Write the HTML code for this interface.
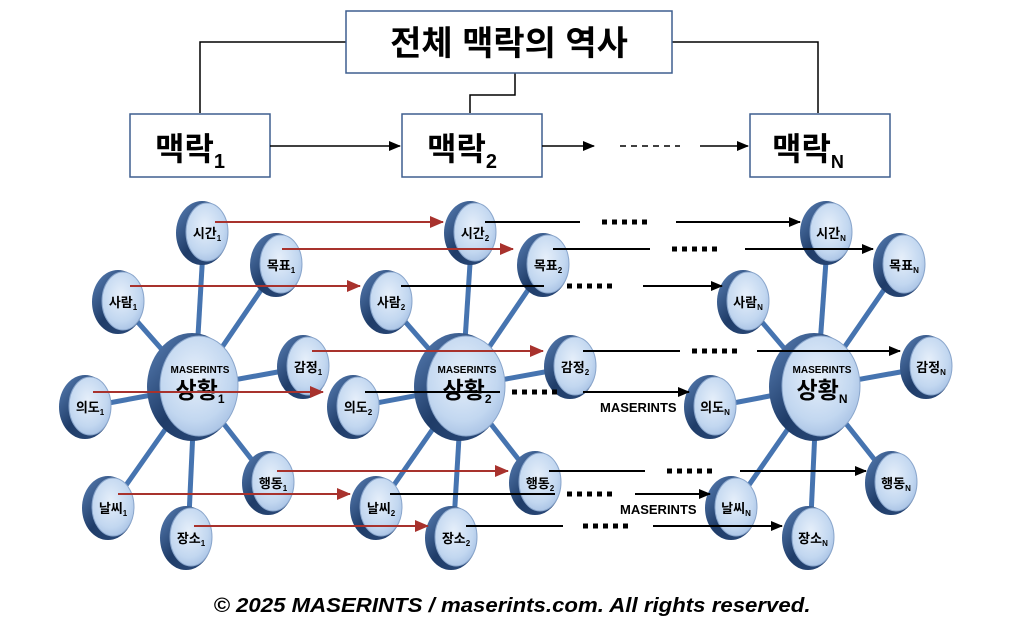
<!DOCTYPE html>
<html><head><meta charset="utf-8"><style>
html,body{margin:0;padding:0;background:#fff}
svg{display:block}
text{font-family:"Liberation Sans","Noto Sans CJK KR",sans-serif}
</style></head><body>
<svg width="1024" height="637" viewBox="0 0 1024 637" xmlns="http://www.w3.org/2000/svg">
<defs>
<radialGradient id="face" cx="45%" cy="40%" r="65%">
<stop offset="0" stop-color="#e6effa"/><stop offset="0.7" stop-color="#c2d7f0"/><stop offset="1" stop-color="#a6c0e3"/>
</radialGradient>
<linearGradient id="rim" x1="0" y1="0" x2="1" y2="1">
<stop offset="0" stop-color="#5b82b8"/><stop offset="0.5" stop-color="#1f3c68"/><stop offset="1" stop-color="#2d4c7c"/>
</linearGradient>
<marker id="ab" markerWidth="12" markerHeight="10" refX="11" refY="5" orient="auto" markerUnits="userSpaceOnUse"><path d="M0,0 L12,5 L0,10z" fill="#000"/></marker>
<marker id="ar2" markerWidth="14" markerHeight="12" refX="13" refY="6" orient="auto" markerUnits="userSpaceOnUse"><path d="M0,0 L14,6 L0,12z" fill="#a8322d"/></marker>
</defs>

<g fill="none" stroke="#000" stroke-width="1.5">
<polyline points="346,42 200,42 200,113"/>
<polyline points="672,42 818,42 818,113"/>
<polyline points="515,73 515,95 470,95 470,113"/>
</g>
<g fill="#fff" stroke="#3f5f8f" stroke-width="1.5">
<rect x="346" y="11" width="326" height="62"/>
<rect x="130" y="114" width="140" height="63"/>
<rect x="402" y="114" width="140" height="63"/>
<rect x="750" y="114" width="140" height="63"/>
</g>
<text x="509" y="55" text-anchor="middle" font-size="34" font-weight="bold">전체 맥락의 역사</text>
<text x="155" y="160" font-size="32" font-weight="bold">맥락<tspan font-size="20" dy="8">1</tspan></text>
<text x="427" y="160" font-size="32" font-weight="bold">맥락<tspan font-size="20" dy="8">2</tspan></text>
<text x="772" y="160" font-size="32" font-weight="bold">맥락<tspan font-size="18" dy="8">N</tspan></text>
<g stroke="#000" stroke-width="1.5">
<line x1="270" y1="146" x2="400" y2="146" marker-end="url(#ab)"/>
<line x1="542" y1="146" x2="594" y2="146" marker-end="url(#ab)"/>
<line x1="620" y1="146" x2="680" y2="146" stroke-dasharray="6,5"/>
<line x1="700" y1="146" x2="748" y2="146" marker-end="url(#ab)"/>
</g>

<g stroke="#4674b0" stroke-width="5">
<line x1="195" y1="387" x2="204" y2="233"/><line x1="195" y1="387" x2="278" y2="265"/><line x1="195" y1="387" x2="120" y2="302"/><line x1="195" y1="387" x2="305" y2="367"/><line x1="195" y1="387" x2="87" y2="407"/><line x1="195" y1="387" x2="270" y2="483"/><line x1="195" y1="387" x2="110" y2="508"/><line x1="195" y1="387" x2="188" y2="538"/>
<line x1="462" y1="387" x2="472" y2="233"/><line x1="462" y1="387" x2="545" y2="265"/><line x1="462" y1="387" x2="388" y2="302"/><line x1="462" y1="387" x2="572" y2="367"/><line x1="462" y1="387" x2="355" y2="407"/><line x1="462" y1="387" x2="537" y2="483"/><line x1="462" y1="387" x2="378" y2="508"/><line x1="462" y1="387" x2="453" y2="538"/>
<line x1="817" y1="387" x2="828" y2="233"/><line x1="817" y1="387" x2="901" y2="265"/><line x1="817" y1="387" x2="745" y2="302"/><line x1="817" y1="387" x2="928" y2="367"/><line x1="817" y1="387" x2="712" y2="407"/><line x1="817" y1="387" x2="893" y2="483"/><line x1="817" y1="387" x2="733" y2="508"/><line x1="817" y1="387" x2="810" y2="538"/>
</g>

<g>
<g transform="translate(204,233)"><ellipse cx="-2" cy="0" rx="26" ry="32" fill="url(#rim)"/><ellipse cx="3" cy="-1" rx="21" ry="29" fill="url(#face)" stroke="#8aa6cc"/></g>
<g transform="translate(278,265)"><ellipse cx="-2" cy="0" rx="26" ry="32" fill="url(#rim)"/><ellipse cx="3" cy="-1" rx="21" ry="29" fill="url(#face)" stroke="#8aa6cc"/></g>
<g transform="translate(120,302)"><ellipse cx="-2" cy="0" rx="26" ry="32" fill="url(#rim)"/><ellipse cx="3" cy="-1" rx="21" ry="29" fill="url(#face)" stroke="#8aa6cc"/></g>
<g transform="translate(305,367)"><ellipse cx="-2" cy="0" rx="26" ry="32" fill="url(#rim)"/><ellipse cx="3" cy="-1" rx="21" ry="29" fill="url(#face)" stroke="#8aa6cc"/></g>
<g transform="translate(87,407)"><ellipse cx="-2" cy="0" rx="26" ry="32" fill="url(#rim)"/><ellipse cx="3" cy="-1" rx="21" ry="29" fill="url(#face)" stroke="#8aa6cc"/></g>
<g transform="translate(270,483)"><ellipse cx="-2" cy="0" rx="26" ry="32" fill="url(#rim)"/><ellipse cx="3" cy="-1" rx="21" ry="29" fill="url(#face)" stroke="#8aa6cc"/></g>
<g transform="translate(110,508)"><ellipse cx="-2" cy="0" rx="26" ry="32" fill="url(#rim)"/><ellipse cx="3" cy="-1" rx="21" ry="29" fill="url(#face)" stroke="#8aa6cc"/></g>
<g transform="translate(188,538)"><ellipse cx="-2" cy="0" rx="26" ry="32" fill="url(#rim)"/><ellipse cx="3" cy="-1" rx="21" ry="29" fill="url(#face)" stroke="#8aa6cc"/></g>

<g transform="translate(472,233)"><ellipse cx="-2" cy="0" rx="26" ry="32" fill="url(#rim)"/><ellipse cx="3" cy="-1" rx="21" ry="29" fill="url(#face)" stroke="#8aa6cc"/></g>
<g transform="translate(545,265)"><ellipse cx="-2" cy="0" rx="26" ry="32" fill="url(#rim)"/><ellipse cx="3" cy="-1" rx="21" ry="29" fill="url(#face)" stroke="#8aa6cc"/></g>
<g transform="translate(388,302)"><ellipse cx="-2" cy="0" rx="26" ry="32" fill="url(#rim)"/><ellipse cx="3" cy="-1" rx="21" ry="29" fill="url(#face)" stroke="#8aa6cc"/></g>
<g transform="translate(572,367)"><ellipse cx="-2" cy="0" rx="26" ry="32" fill="url(#rim)"/><ellipse cx="3" cy="-1" rx="21" ry="29" fill="url(#face)" stroke="#8aa6cc"/></g>
<g transform="translate(355,407)"><ellipse cx="-2" cy="0" rx="26" ry="32" fill="url(#rim)"/><ellipse cx="3" cy="-1" rx="21" ry="29" fill="url(#face)" stroke="#8aa6cc"/></g>
<g transform="translate(537,483)"><ellipse cx="-2" cy="0" rx="26" ry="32" fill="url(#rim)"/><ellipse cx="3" cy="-1" rx="21" ry="29" fill="url(#face)" stroke="#8aa6cc"/></g>
<g transform="translate(378,508)"><ellipse cx="-2" cy="0" rx="26" ry="32" fill="url(#rim)"/><ellipse cx="3" cy="-1" rx="21" ry="29" fill="url(#face)" stroke="#8aa6cc"/></g>
<g transform="translate(453,538)"><ellipse cx="-2" cy="0" rx="26" ry="32" fill="url(#rim)"/><ellipse cx="3" cy="-1" rx="21" ry="29" fill="url(#face)" stroke="#8aa6cc"/></g>

<g transform="translate(828,233)"><ellipse cx="-2" cy="0" rx="26" ry="32" fill="url(#rim)"/><ellipse cx="3" cy="-1" rx="21" ry="29" fill="url(#face)" stroke="#8aa6cc"/></g>
<g transform="translate(901,265)"><ellipse cx="-2" cy="0" rx="26" ry="32" fill="url(#rim)"/><ellipse cx="3" cy="-1" rx="21" ry="29" fill="url(#face)" stroke="#8aa6cc"/></g>
<g transform="translate(745,302)"><ellipse cx="-2" cy="0" rx="26" ry="32" fill="url(#rim)"/><ellipse cx="3" cy="-1" rx="21" ry="29" fill="url(#face)" stroke="#8aa6cc"/></g>
<g transform="translate(928,367)"><ellipse cx="-2" cy="0" rx="26" ry="32" fill="url(#rim)"/><ellipse cx="3" cy="-1" rx="21" ry="29" fill="url(#face)" stroke="#8aa6cc"/></g>
<g transform="translate(712,407)"><ellipse cx="-2" cy="0" rx="26" ry="32" fill="url(#rim)"/><ellipse cx="3" cy="-1" rx="21" ry="29" fill="url(#face)" stroke="#8aa6cc"/></g>
<g transform="translate(893,483)"><ellipse cx="-2" cy="0" rx="26" ry="32" fill="url(#rim)"/><ellipse cx="3" cy="-1" rx="21" ry="29" fill="url(#face)" stroke="#8aa6cc"/></g>
<g transform="translate(733,508)"><ellipse cx="-2" cy="0" rx="26" ry="32" fill="url(#rim)"/><ellipse cx="3" cy="-1" rx="21" ry="29" fill="url(#face)" stroke="#8aa6cc"/></g>
<g transform="translate(810,538)"><ellipse cx="-2" cy="0" rx="26" ry="32" fill="url(#rim)"/><ellipse cx="3" cy="-1" rx="21" ry="29" fill="url(#face)" stroke="#8aa6cc"/></g>
</g>

<g transform="translate(195,387)"><ellipse cx="-3" cy="0" rx="45" ry="54" fill="url(#rim)"/><ellipse cx="4" cy="-1" rx="39" ry="50" fill="url(#face)" stroke="#8aa6cc"/></g>
<g transform="translate(462,387)"><ellipse cx="-3" cy="0" rx="45" ry="54" fill="url(#rim)"/><ellipse cx="4" cy="-1" rx="39" ry="50" fill="url(#face)" stroke="#8aa6cc"/></g>
<g transform="translate(817,387)"><ellipse cx="-3" cy="0" rx="45" ry="54" fill="url(#rim)"/><ellipse cx="4" cy="-1" rx="39" ry="50" fill="url(#face)" stroke="#8aa6cc"/></g>

<g font-size="13" font-weight="bold" text-anchor="middle">
<text x="207" y="238">시간<tspan font-size="8" dy="3">1</tspan></text>
<text x="281" y="270">목표<tspan font-size="8" dy="3">1</tspan></text>
<text x="123" y="307">사람<tspan font-size="8" dy="3">1</tspan></text>
<text x="308" y="372">감정<tspan font-size="8" dy="3">1</tspan></text>
<text x="90" y="412">의도<tspan font-size="8" dy="3">1</tspan></text>
<text x="273" y="488">행동<tspan font-size="8" dy="3">1</tspan></text>
<text x="113" y="513">날씨<tspan font-size="8" dy="3">1</tspan></text>
<text x="191" y="543">장소<tspan font-size="8" dy="3">1</tspan></text>

<text x="475" y="238">시간<tspan font-size="8" dy="3">2</tspan></text>
<text x="548" y="270">목표<tspan font-size="8" dy="3">2</tspan></text>
<text x="391" y="307">사람<tspan font-size="8" dy="3">2</tspan></text>
<text x="575" y="372">감정<tspan font-size="8" dy="3">2</tspan></text>
<text x="358" y="412">의도<tspan font-size="8" dy="3">2</tspan></text>
<text x="540" y="488">행동<tspan font-size="8" dy="3">2</tspan></text>
<text x="381" y="513">날씨<tspan font-size="8" dy="3">2</tspan></text>
<text x="456" y="543">장소<tspan font-size="8" dy="3">2</tspan></text>

<text x="831" y="238">시간<tspan font-size="8" dy="3">N</tspan></text>
<text x="904" y="270">목표<tspan font-size="8" dy="3">N</tspan></text>
<text x="748" y="307">사람<tspan font-size="8" dy="3">N</tspan></text>
<text x="931" y="372">감정<tspan font-size="8" dy="3">N</tspan></text>
<text x="715" y="412">의도<tspan font-size="8" dy="3">N</tspan></text>
<text x="896" y="488">행동<tspan font-size="8" dy="3">N</tspan></text>
<text x="736" y="513">날씨<tspan font-size="8" dy="3">N</tspan></text>
<text x="813" y="543">장소<tspan font-size="8" dy="3">N</tspan></text>

<text x="200" y="373" font-size="10">MASERINTS</text>
<text x="200" y="398" font-size="23">상황<tspan font-size="12" dy="5">1</tspan></text>
<text x="467" y="373" font-size="10">MASERINTS</text>
<text x="467" y="398" font-size="23">상황<tspan font-size="12" dy="5">2</tspan></text>
<text x="822" y="373" font-size="10">MASERINTS</text>
<text x="822" y="398" font-size="23">상황<tspan font-size="12" dy="5">N</tspan></text>
</g>

<g stroke="#a8322d" stroke-width="2">
<line x1="215" y1="222" x2="443" y2="222" marker-end="url(#ar2)"/>
<line x1="282" y1="249" x2="513" y2="249" marker-end="url(#ar2)"/>
<line x1="130" y1="286" x2="360" y2="286" marker-end="url(#ar2)"/>
<line x1="312" y1="351" x2="543" y2="351" marker-end="url(#ar2)"/>
<line x1="93" y1="392" x2="323" y2="392" marker-end="url(#ar2)"/>
<line x1="277" y1="471" x2="508" y2="471" marker-end="url(#ar2)"/>
<line x1="118" y1="494" x2="350" y2="494" marker-end="url(#ar2)"/>
<line x1="194" y1="526" x2="428" y2="526" marker-end="url(#ar2)"/>
</g>

<g stroke="#000" stroke-width="2">
<line x1="485" y1="222" x2="580" y2="222"/><line x1="602" y1="222" x2="652" y2="222" stroke-width="5" stroke-dasharray="5,5"/><line x1="676" y1="222" x2="800" y2="222" marker-end="url(#ab)"/>
<line x1="553" y1="249" x2="650" y2="249"/><line x1="672" y1="249" x2="722" y2="249" stroke-width="5" stroke-dasharray="5,5"/><line x1="745" y1="249" x2="873" y2="249" marker-end="url(#ab)"/>
<line x1="401" y1="286" x2="544" y2="286"/><line x1="567" y1="286" x2="617" y2="286" stroke-width="5" stroke-dasharray="5,5"/><line x1="643" y1="286" x2="722" y2="286" marker-end="url(#ab)"/>
<line x1="583" y1="351" x2="680" y2="351"/><line x1="692" y1="351" x2="742" y2="351" stroke-width="5" stroke-dasharray="5,5"/><line x1="757" y1="351" x2="900" y2="351" marker-end="url(#ab)"/>
<line x1="365" y1="392" x2="500" y2="392"/><line x1="512" y1="392" x2="562" y2="392" stroke-width="5" stroke-dasharray="5,5"/><line x1="583" y1="392" x2="689" y2="392" marker-end="url(#ab)"/>
<line x1="549" y1="471" x2="645" y2="471"/><line x1="667" y1="471" x2="717" y2="471" stroke-width="5" stroke-dasharray="5,5"/><line x1="740" y1="471" x2="866" y2="471" marker-end="url(#ab)"/>
<line x1="390" y1="494" x2="555" y2="494"/><line x1="567" y1="494" x2="617" y2="494" stroke-width="5" stroke-dasharray="5,5"/><line x1="635" y1="494" x2="710" y2="494" marker-end="url(#ab)"/>
<line x1="466" y1="526" x2="563" y2="526"/><line x1="583" y1="526" x2="633" y2="526" stroke-width="5" stroke-dasharray="5,5"/><line x1="653" y1="526" x2="782" y2="526" marker-end="url(#ab)"/>
</g>
<text x="600" y="412" font-size="13" font-weight="bold">MASERINTS</text>
<text x="620" y="514" font-size="13" font-weight="bold">MASERINTS</text>

<text x="512" y="612" text-anchor="middle" font-size="20" font-weight="bold" font-style="italic" textLength="597" lengthAdjust="spacingAndGlyphs">© 2025 MASERINTS / maserints.com. All rights reserved.</text>
</svg>
</body></html>
